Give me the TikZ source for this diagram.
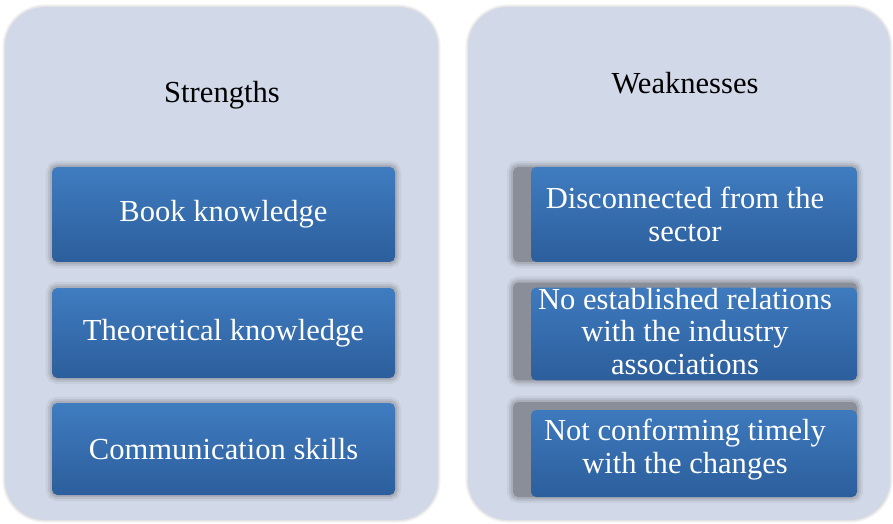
\documentclass[tikz,border=0pt]{standalone}
\usepackage{fontspec}
\setmainfont{Liberation Serif}
\definecolor{panelbg}{HTML}{D1D8E8}
\definecolor{boxtop}{HTML}{3F7CC0}
\definecolor{boxmid}{HTML}{2F6DB4}
\definecolor{boxbot}{HTML}{2C5E9C}
\definecolor{stripgray}{HTML}{898E99}
\tikzset{
	swfont/.style={font=\fontsize{17.4}{18.4}\selectfont},
	softshadow/.style={
		preaction={draw=black!70, draw opacity=0.08, line width=7pt},
		preaction={draw=black!70, draw opacity=0.10, line width=4.5pt},
		preaction={draw=black!70, draw opacity=0.14, line width=2.5pt}},
	panel/.style={fill=panelbg, rounded corners=0.8cm, minimum width=#1, minimum height=10.26cm,
		preaction={draw=black!60, draw opacity=0.08, line width=3pt},
		preaction={draw=black!60, draw opacity=0.10, line width=1.5pt}},
	title/.style={swfont, text=black},
	strbox/.style={swfont, text=white, align=center, minimum width=6.86cm, rounded corners=3pt,
		top color=boxtop, middle color=boxmid, bottom color=boxbot, softshadow},
	weakbox/.style={swfont, text=white, align=center, minimum width=6.88cm, rounded corners=3pt,
		fill=stripgray, softshadow,
		path picture={\shade[top color=boxtop, middle color=boxmid, bottom color=boxbot]
			([xshift=0.36cm, yshift=-#1]path picture bounding box.north west) rectangle (path picture bounding box.south east);}}
}
\begin{document}
\begin{tikzpicture}
	\useasboundingbox (0,0) rectangle (17.86,-10.48);
	% the two columns
	\node[panel=8.66cm] (strengths) at (4.43,-5.27) {};
	\node[panel=8.44cm] (weaknesses) at (13.58,-5.27) {};
	\node[title] (strtitle) at (4.44,-1.9) {Strengths};
	\node[title] (wktitle) at (13.7,-1.66) {Weaknesses};
	% strengths
	\node[strbox, minimum height=1.9cm] (book) at (4.47,-4.29) {Book knowledge};
	\node[strbox, minimum height=1.8cm] (theory) at (4.47,-6.66) {Theoretical knowledge};
	\node[strbox, minimum height=1.84cm] (comm) at (4.47,-8.98) {Communication skills};
	% weaknesses
	\node[weakbox=0cm, minimum height=1.9cm] (sector) at (13.7,-4.29) {Disconnected from the\\ sector};
	\node[weakbox=0.1cm, minimum height=1.94cm] (assoc) at (13.7,-6.63) {No established relations\\ with the industry\\ associations};
	\node[weakbox=0.16cm, minimum height=1.9cm] (changes) at (13.7,-8.99) {Not conforming timely\\ with the changes};
\end{tikzpicture}
\end{document}
